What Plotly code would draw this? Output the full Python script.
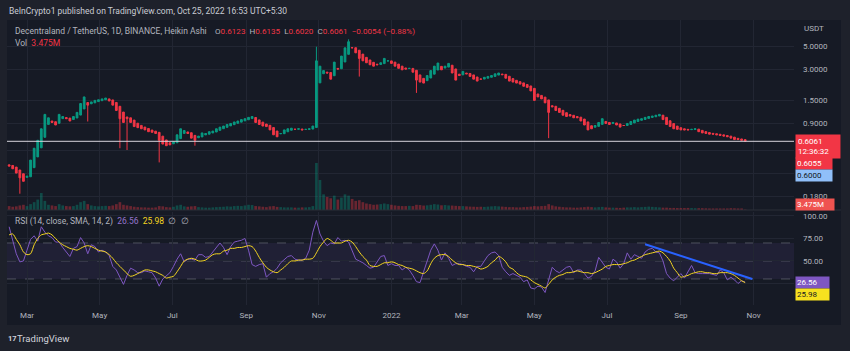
import numpy as np
import pandas as pd
import plotly.graph_objects as go

# ---------------- data (3-day buckets) ----------------
start_date = "2021-02-14"

ha_close = [
    0.35, 0.33, 0.30, 0.27, 0.25, 0.28, 0.40, 0.52, 0.62, 0.80,
    1.10, 1.02, 0.92, 0.87, 1.10, 1.05, 1.00, 0.95, 1.05, 1.15,
    1.40, 1.62, 1.35, 1.45, 1.50, 1.52, 1.55, 1.58, 1.48, 1.35,
    1.20, 1.00, 0.92, 1.00, 0.92, 0.84, 0.82, 0.80, 0.78, 0.75,
    0.74, 0.72, 0.62, 0.57, 0.55, 0.56, 0.60, 0.70, 0.80, 0.77,
    0.72, 0.65, 0.62, 0.68, 0.73, 0.72, 0.75, 0.76, 0.80, 0.83,
    0.85, 0.88, 0.90, 0.93, 0.95, 0.98, 1.00, 1.03, 1.05, 0.92,
    0.88, 0.85, 0.84, 0.78, 0.70, 0.67, 0.72, 0.78, 0.80, 0.81,
    0.79, 0.80, 0.78, 0.79, 0.80, 0.85, 3.60, 3.20, 2.90, 2.75,
    2.40, 3.50, 3.00, 4.00, 4.80, 5.50, 4.80, 4.30, 3.80, 3.60,
    3.45, 3.30, 3.20, 3.30, 3.45, 3.80, 3.60, 3.40, 3.20, 3.05,
    2.95, 3.00, 3.05, 2.80, 2.35, 2.25, 2.20, 2.60, 2.90, 3.20,
    3.43, 2.95, 3.20, 3.40, 2.75, 2.35, 2.60, 2.85, 2.70, 2.55,
    2.40, 2.30, 2.40, 2.50, 2.55, 2.60, 2.70, 2.75, 2.65, 2.45,
    2.30, 2.25, 2.20, 2.15, 2.05, 2.00, 1.85, 1.50, 1.62, 1.55,
    1.42, 1.15, 1.30, 1.20, 1.15, 1.08, 1.05, 1.06, 1.02, 1.02,
    0.95, 0.87, 0.78, 0.80, 0.86, 0.92, 1.00, 0.90, 0.88, 0.92,
    0.87, 0.83, 0.86, 0.90, 0.94, 0.97, 0.99, 1.00, 1.03, 1.05,
    1.06, 1.08, 1.10, 0.98, 0.88, 0.84, 0.80, 0.79, 0.78, 0.78,
    0.78, 0.79, 0.80, 0.75, 0.73, 0.72, 0.71, 0.71, 0.70, 0.69,
    0.68, 0.67, 0.65, 0.63, 0.63, 0.62, 0.6061,
]
first_open = 0.36

wick_low_dates = ["2021-02-23", "2021-04-21", "2021-05-18", "2021-05-24",
                  "2021-06-20", "2021-07-20", "2021-12-05", "2022-01-22",
                  "2022-05-13"]
wick_low_vals = [0.19, 0.94, 0.52, 0.50, 0.38, 0.55, 2.54, 1.77, 0.65]
wick_high_dates = ["2021-10-30", "2021-11-26"]
wick_high_vals = [4.92, 5.80]

volume_m = [
    30, 25, 28, 35, 40, 30, 45, 60, 80, 130,
    70, 40, 35, 30, 45, 35, 30, 28, 30, 40,
    60, 70, 45, 35, 30, 28, 30, 32, 30, 35,
    45, 60, 40, 35, 30, 25, 22, 20, 20, 18,
    18, 20, 30, 28, 22, 20, 25, 35, 40, 28,
    25, 28, 30, 22, 20, 18, 18, 20, 22, 24,
    25, 28, 26, 30, 32, 30, 35, 40, 38, 30,
    28, 25, 22, 28, 30, 24, 22, 20, 20, 20,
    18, 18, 20, 20, 22, 30, 360, 230, 120, 100,
    90, 110, 80, 95, 120, 110, 85, 70, 75, 60,
    50, 45, 40, 42, 45, 50, 45, 40, 35, 32,
    30, 30, 32, 30, 40, 38, 34, 36, 40, 45,
    42, 36, 38, 35, 34, 32, 30, 30, 28, 26,
    25, 24, 25, 24, 26, 28, 30, 28, 26, 24,
    22, 22, 20, 20, 22, 24, 26, 30, 28, 30,
    32, 45, 35, 28, 25, 22, 20, 20, 18, 18,
    20, 22, 25, 22, 20, 22, 24, 20, 18, 18,
    17, 16, 18, 20, 20, 22, 20, 22, 24, 26,
    24, 22, 20, 18, 18, 16, 16, 15, 15, 15,
    16, 15, 14, 14, 14, 13, 12, 12, 12, 12,
    12, 12, 14, 13, 12, 12, 3.475,
]

rsi_vals = [
    88, 74, 58, 49, 50, 62, 74, 78, 72, 88,
    82, 78, 76, 71, 71, 65, 60, 55, 64, 66,
    76, 70, 58, 68, 66, 60, 62, 60, 56, 44,
    40, 31, 24, 34, 42, 40, 37, 37, 39, 38,
    37, 31, 22, 30, 34, 37, 44, 52, 58, 49,
    52, 52, 51, 57, 57, 54, 55, 60, 66, 70,
    65, 57, 66, 71, 72, 73, 75, 62, 46, 44,
    46, 47, 32, 36, 38, 42, 48, 52, 55, 56,
    52, 51, 51, 53, 62, 82, 95, 80, 72, 67,
    70, 69, 76, 72, 73, 71, 61, 52, 50, 48,
    45, 42, 43, 49, 55, 56, 45, 47, 45, 45,
    40, 43, 40, 34, 27, 26, 38, 48, 62, 69,
    62, 51, 59, 53, 45, 47, 47, 46, 44, 43,
    38, 44, 44, 50, 56, 59, 60, 56, 43, 38,
    34, 36, 34, 32, 27, 29, 20, 19, 22, 21,
    15, 30, 43, 39, 37, 40, 43, 44, 37, 40,
    40, 36, 31, 33, 39, 54, 49, 43, 41, 52,
    49, 42, 47, 59, 52, 57, 55, 53, 60, 63,
    64, 60, 59, 50, 36, 31, 28, 32, 36, 31,
    38, 45, 37, 36, 36, 36, 36, 35, 34, 40,
    37, 29, 32, 29, 25, 28, 26.56,
]

rsi_sma_vals = [
    79, 80, 74, 68, 60, 57, 58, 68, 75, 79,
    80, 81, 79, 75, 71, 68, 66, 64, 63, 62,
    64, 66, 67, 66, 64, 62, 61, 60, 57, 53,
    48, 44, 40, 36, 33, 34, 36, 38, 40, 40,
    39, 38, 36, 34, 31, 32, 33, 38, 44, 50,
    52, 53, 52, 50, 50, 51, 54, 57, 58, 58,
    61, 62, 64, 64, 65, 65, 66, 67, 66, 61,
    54, 48, 43, 40, 38, 37, 40, 43, 47, 50,
    50, 51, 51, 52, 52, 53, 59, 66, 71, 75,
    73, 70, 70, 70, 72, 73, 71, 66, 60, 55,
    51, 45, 44, 44, 46, 48, 48, 49, 48, 46,
    45, 43, 42, 41, 39, 37, 36, 39, 47, 53,
    56, 57, 57, 55, 51, 48, 46, 46, 45, 45,
    44, 43, 41, 42, 44, 48, 51, 55, 53, 49,
    43, 41, 37, 34, 33, 32, 29, 26, 24, 22,
    20, 24, 29, 32, 34, 35, 37, 37, 38, 39,
    38, 37, 37, 36, 37, 39, 41, 44, 45, 46,
    46, 46, 47, 48, 50, 51, 53, 55, 57, 58,
    59, 60, 61, 59, 55, 50, 42, 37, 32, 33,
    34, 36, 37, 38, 38, 37, 37, 36, 36, 37,
    37, 37, 36, 34, 31, 28, 25.98,
]

trend_dates = ["2022-08-02", "2022-10-31"]
trend_vals = [68.5, 30.0]

month_ticks = ["2021-03-01", "2021-05-01", "2021-07-01", "2021-09-01", "2021-11-01",
               "2022-01-01", "2022-03-01", "2022-05-01", "2022-07-01", "2022-09-01",
               "2022-11-01"]
month_labels = ["Mar", "May", "Jul", "Sep", "Nov", "2022", "Mar", "May", "Jul", "Sep", "Nov"]

price_ticks = [5.0, 3.0, 1.5, 0.9, 0.5, 0.3, 0.18]
price_tick_hidden = [0.5, 0.3]          # covered by the price labels in the reference
rsi_ticks = [25, 50, 75, 100]
rsi_levels = [70, 50, 30]

legend_ohlc = {"O": "0.6123", "H": "0.6135", "L": "0.6020", "C": "0.6061"}
legend_change = "−0.0054 (−0.88%)"
last_volume_label = "3.475M"
countdown = "12:36:32"
extra_price_labels = ["0.6055", "0.6000"]

# ---------------- derived candles (Heikin Ashi open) ----------------
dates = pd.date_range(start_date, periods=len(ha_close), freq="3D")
opens = []
for i, c in enumerate(ha_close):
    if i == 0:
        opens.append(first_open)
    else:
        opens.append((opens[-1] + ha_close[i - 1]) / 2)
highs = [max(o, c) for o, c in zip(opens, ha_close)]
lows = [min(o, c) for o, c in zip(opens, ha_close)]
for d, v in zip(wick_low_dates, wick_low_vals):
    k = dates.get_indexer([pd.Timestamp(d)])[0]
    lows[k] = min(lows[k], v)
for d, v in zip(wick_high_dates, wick_high_vals):
    k = dates.get_indexer([pd.Timestamp(d)])[0]
    highs[k] = max(highs[k], v)

UP = "#089981"
DN = "#f23645"
vol_colors = ["rgba(8,153,129,0.38)" if c >= o else "rgba(242,54,69,0.38)"
              for o, c in zip(opens, ha_close)]

OUTER = "#1e212b"
PANEL = "#161a25"
GRID = "#222633"
TXT = "#b2b5be"
FONT = "Roboto"

x_range = ["2021-02-12 05:00", "2022-12-05"]
last = ha_close[-1]

fig = go.Figure()
fig.add_trace(go.Bar(x=dates, y=volume_m, marker=dict(color=vol_colors, line=dict(width=0)),
                     xaxis="x", yaxis="y", showlegend=False, hoverinfo="skip"))
fig.add_trace(go.Candlestick(x=dates, open=opens, high=highs, low=lows, close=ha_close,
                             increasing=dict(line=dict(color=UP, width=1), fillcolor=UP),
                             decreasing=dict(line=dict(color=DN, width=1), fillcolor=DN),
                             whiskerwidth=0, xaxis="x", yaxis="y2", showlegend=False))
fig.add_trace(go.Scatter(x=x_range, y=[last, last], mode="lines",
                         line=dict(color="#d8d4dc", width=1), xaxis="x", yaxis="y2",
                         showlegend=False, hoverinfo="skip"))
fig.add_trace(go.Scatter(x=dates, y=rsi_vals, mode="lines", line=dict(color="#7e57c2", width=1),
                         xaxis="x2", yaxis="y3", showlegend=False))
fig.add_trace(go.Scatter(x=dates, y=rsi_sma_vals, mode="lines",
                         line=dict(color="#f5d621", width=1, shape="spline", smoothing=0.8),
                         xaxis="x2", yaxis="y3", showlegend=False))
fig.add_trace(go.Scatter(x=trend_dates, y=trend_vals, mode="lines",
                         line=dict(color="#2962ff", width=2), xaxis="x2", yaxis="y3",
                         showlegend=False))

shapes = [
    dict(type="rect", xref="paper", yref="paper", x0=0, x1=1.0597, y0=-0.0702, y1=1,
         fillcolor=PANEL, line=dict(width=0), layer="below"),
    dict(type="rect", xref="paper", yref="y3", x0=0, x1=1, y0=30, y1=70,
         fillcolor="rgba(126,87,194,0.10)", line=dict(width=0), layer="below"),
    dict(type="line", xref="paper", yref="paper", x0=0, x1=1.0597, y0=0.3333, y1=0.3333,
         line=dict(color="#2a2e39", width=1)),
]
for lv in rsi_levels:
    shapes.append(dict(type="line", xref="paper", yref="y3", x0=0, x1=1, y0=lv, y1=lv,
                       line=dict(color="rgba(120,123,134,0.55)", width=1, dash="dash"),
                       layer="below"))

def px_x(px):
    return (px - 7) / 787.0

def px_y(py):
    return (305 - py) / 285.0

red = DN
legend1a = "Decentraland / TetherUS, 1D, BINANCE, Heikin Ashi"
legend1b = ("&nbsp;&nbsp;".join(f"{k}<span style='color:{red}'>{v}</span>"
                                for k, v in legend_ohlc.items())
            + f"&nbsp;&nbsp;<span style='color:{red}'>{legend_change}</span>")
legend2 = f"Vol&nbsp;&nbsp;<span style='color:{red}'>{last_volume_label}</span>"
legend3 = (f"RSI (14, close, SMA, 14, 2)&nbsp;&nbsp;<span style='color:#9575cd'>{rsi_vals[-1]:.2f}</span>"
           f"&nbsp;&nbsp;<span style='color:#f5d621'>{rsi_sma_vals[-1]:.2f}</span>&nbsp;&nbsp;∅&nbsp;&nbsp;∅")

annotations = [
    dict(text="BeInCrypto1 published on TradingView.com, Oct 25, 2022 16:53 UTC+5:30",
         xref="paper", yref="paper", x=px_x(7), y=px_y(11), xanchor="left", yanchor="middle",
         showarrow=False, font=dict(size=8.5, color="#c9ccd4", family=FONT)),
    dict(text=legend1a, xref="paper", yref="paper", x=px_x(13), y=px_y(30.5), xanchor="left",
         yanchor="middle", showarrow=False, font=dict(size=8.5, color=TXT, family=FONT)),
    dict(text=legend1b, xref="paper", yref="paper", x=px_x(213), y=px_y(30.5), xanchor="left",
         yanchor="middle", showarrow=False, font=dict(size=8.1, color=TXT, family=FONT)),
    dict(text=legend2, xref="paper", yref="paper", x=px_x(13), y=px_y(43), xanchor="left",
         yanchor="middle", showarrow=False, font=dict(size=8.5, color=TXT, family=FONT)),
    dict(text=legend3, xref="paper", yref="paper", x=px_x(13), y=px_y(221), xanchor="left",
         yanchor="middle", showarrow=False, font=dict(size=8.5, color=TXT, family=FONT)),
    dict(text="USDT", xref="paper", yref="paper", x=px_x(802), y=px_y(29), xanchor="left",
         yanchor="middle", showarrow=False, font=dict(size=8, color=TXT, family=FONT)),
    dict(text=f"{last:.4f}<br>{countdown}", xref="paper", yref="y2", x=px_x(795),
         y=np.log10(last), xanchor="left", yanchor="top", yshift=7, showarrow=False,
         bgcolor=DN, borderpad=2, width=40, align="left",
         font=dict(size=8, color="#ffffff", family=FONT)),
    dict(text=extra_price_labels[0], xref="paper", yref="y2", x=px_x(795),
         y=np.log10(last), xanchor="left", yanchor="top", yshift=-16, showarrow=False,
         bgcolor=DN, borderpad=1, width=34, align="left",
         font=dict(size=8, color="#ffffff", family=FONT)),
    dict(text=extra_price_labels[1], xref="paper", yref="y2", x=px_x(795),
         y=np.log10(last), xanchor="left", yanchor="top", yshift=-28, showarrow=False,
         bgcolor="#90bff9", borderpad=1, width=34, align="left",
         font=dict(size=8, color="#131722", family=FONT)),
    dict(text=last_volume_label, xref="paper", yref="paper", x=px_x(795), y=px_y(204.5),
         xanchor="left", yanchor="middle", showarrow=False, bgcolor="#ef5350", borderpad=1,
         width=36, align="left", font=dict(size=8, color="#ffffff", family=FONT)),
    dict(text=f"{rsi_vals[-1]:.2f}", xref="paper", yref="y3", x=px_x(795), y=rsi_vals[-1],
         xanchor="left", yanchor="middle", showarrow=False, bgcolor="#7e57c2", borderpad=1,
         width=31, align="left", font=dict(size=8, color="#ffffff", family=FONT)),
    dict(text=f"{rsi_sma_vals[-1]:.2f}", xref="paper", yref="y3", x=px_x(795),
         y=rsi_vals[-1], yshift=-12, xanchor="left", yanchor="middle", showarrow=False,
         bgcolor="#f7e11f", borderpad=1, width=31, align="left",
         font=dict(size=8, color="#131722", family=FONT)),
    dict(text="<b>17</b>", xref="paper", yref="paper", x=px_x(6), y=px_y(338),
         xanchor="left", yanchor="middle", showarrow=False,
         font=dict(size=7.5, color="#d1d4dc", family=FONT)),
    dict(text="TradingView", xref="paper", yref="paper", x=px_x(15), y=px_y(338),
         xanchor="left", yanchor="middle", showarrow=False,
         font=dict(size=9.5, color="#d1d4dc", family=FONT)),
]

axis_font = dict(size=8, color=TXT, family=FONT)

fig.update_layout(
    width=850, height=351,
    margin=dict(l=7, r=56, t=20, b=46),
    paper_bgcolor=OUTER, plot_bgcolor=PANEL,
    bargap=0.25,
    font=dict(family=FONT, color=TXT, size=8),
    xaxis=dict(domain=[0, 1], anchor="y", type="date", range=x_range,
               tickvals=month_ticks, showticklabels=False, showgrid=True, gridcolor=GRID,
               gridwidth=1, zeroline=False, showline=False, ticks="",
               rangeslider=dict(visible=False)),
    xaxis2=dict(domain=[0, 1], anchor="y3", type="date", range=x_range, matches="x",
                tickvals=month_ticks, ticktext=month_labels, showgrid=True, gridcolor=GRID,
                gridwidth=1, zeroline=False, showline=False, ticks="", tickfont=axis_font,
                ticklabelstandoff=4),
    yaxis=dict(domain=[0.3333, 1], anchor="x", range=[0, 1455], visible=False,
               fixedrange=True),
    yaxis2=dict(overlaying="y", anchor="x", side="right", type="log",
                range=[-0.878, 0.949], tickvals=price_ticks,
                ticktext=["" if v in price_tick_hidden else f"{v:.4f}" for v in price_ticks],
                showgrid=True, gridcolor=GRID,
                gridwidth=1, zeroline=False, showline=False, ticks="", tickfont=axis_font,
                ticklabelstandoff=8),
    yaxis3=dict(domain=[0, 0.326], anchor="x2", side="right", range=[1.1, 104.3],
                tickvals=rsi_ticks, ticktext=["", "50.00", "75.00", "100.00"], showgrid=True,
                gridcolor=GRID, gridwidth=1, zeroline=False, showline=False, ticks="",
                tickfont=axis_font, ticklabelstandoff=8),
    shapes=shapes,
    annotations=annotations,
)

fig.write_html("out.html")
